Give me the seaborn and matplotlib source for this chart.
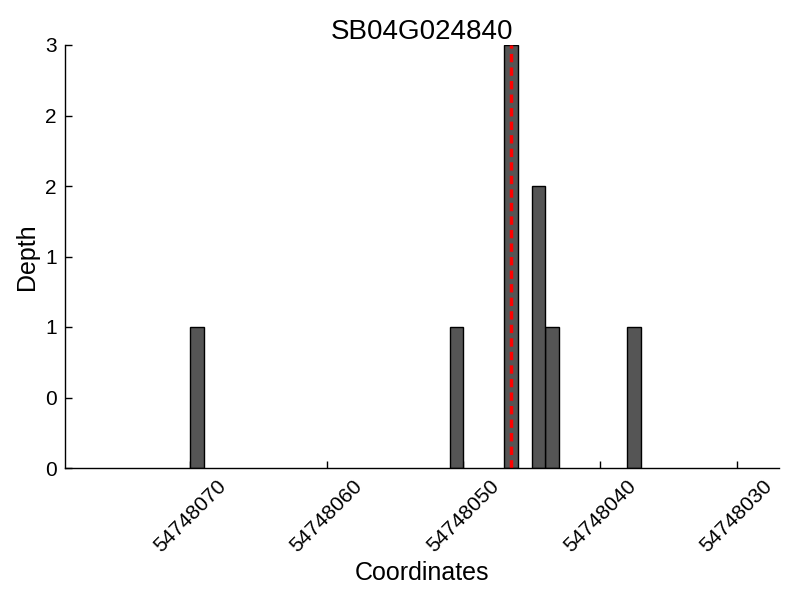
import matplotlib
matplotlib.use("Agg")
import matplotlib.pyplot as plt
from matplotlib.ticker import MultipleLocator, FormatStrFormatter
import seaborn as sns

# read depth per coordinate (bar covers [coord, coord + 1])
gene = "SB04G024840"
coords = [54748069, 54748050, 54748046, 54748044, 54748043, 54748037]
depths = [1, 1, 3, 2, 1, 1]
site = 54748046.5

sns.set_style("ticks")
plt.rcParams["font.family"] = ["Liberation Sans", "DejaVu Sans"]
plt.rcParams["text.color"] = "black"
plt.rcParams["axes.labelcolor"] = "black"

fig, ax = plt.subplots(figsize=(8, 6), dpi=100)
fig.subplots_adjust(left=65 / 800, right=779 / 800, top=1 - 45 / 600, bottom=1 - 468 / 600)

centres = [c + 0.5 for c in coords]
sns.barplot(x=centres, y=depths, native_scale=True, width=1, color="#555555",
            saturation=1, edgecolor="black", linewidth=1, ax=ax)

ax.axvline(site, color="red", linestyle=(0, (2.4, 1.5)), linewidth=2.5)

ax.set_xlim(54748079.15, 54748026.9)
ax.set_ylim(0, 3)
ax.xaxis.set_major_locator(MultipleLocator(10))
ax.ticklabel_format(axis="x", useOffset=False, style="plain")
ax.yaxis.set_major_locator(MultipleLocator(0.5))
ax.yaxis.set_major_formatter(FormatStrFormatter("%d"))

ax.tick_params(direction="in", length=5, width=1, labelsize=15, colors="black", pad=6)
for lab in ax.get_xticklabels():
    lab.set_rotation(45)

for s in ["top", "right"]:
    ax.spines[s].set_visible(False)
for s in ["left", "bottom"]:
    ax.spines[s].set_linewidth(1)
    ax.spines[s].set_color("black")

ax.set_title(gene, fontsize=20, pad=4, color="black")
ax.set_xlabel("Coordinates", fontsize=18)
ax.set_ylabel("Depth", fontsize=18)

fig.savefig("out.png", dpi=100)
